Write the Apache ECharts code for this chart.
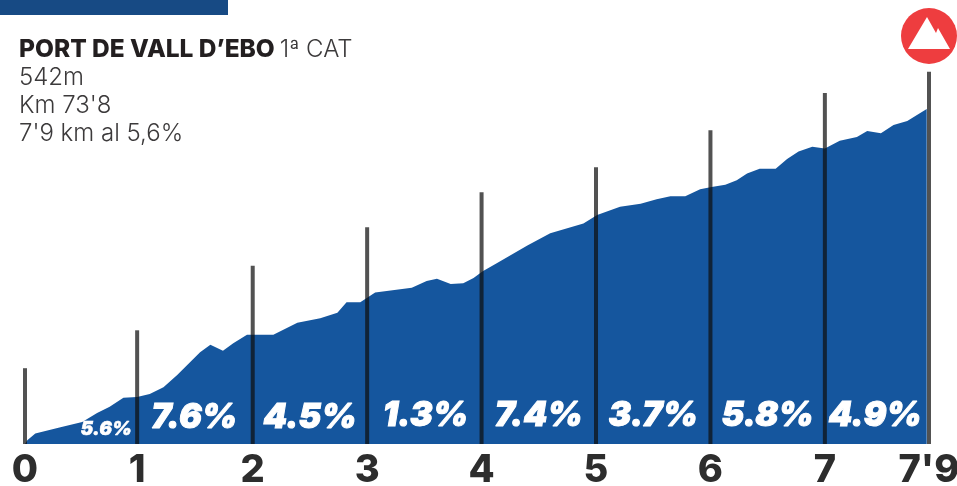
<!DOCTYPE html>
<html>
<head>
<meta charset="utf-8">
<style>
html, body { margin: 0; padding: 0; background: #fff; }
#main { width: 957px; height: 486px; }
</style>
<script src="https://cdn.jsdelivr.net/npm/echarts@6/dist/echarts.min.js"></script>
</head>
<body>
<div id="main"></div>
<script>
// km, elevation (m)
var profile = [
    [0, 100], [0.02, 105], [0.09, 114], [0.31, 122], [0.50, 129], [0.63, 141], [0.74, 149], [0.86, 161],
    [0.98, 162], [1.09, 166], [1.21, 175], [1.33, 191], [1.53, 221], [1.62, 231], [1.73, 223], [1.82, 233],
    [1.94, 244], [2.17, 244], [2.38, 260], [2.58, 266], [2.73, 273], [2.81, 287], [2.93, 287], [3.06, 300],
    [3.38, 306], [3.51, 315], [3.60, 318], [3.72, 311], [3.83, 312], [3.92, 319], [4.00, 328], [4.13, 339],
    [4.39, 362], [4.59, 378], [4.88, 391], [5.00, 402], [5.20, 413], [5.38, 417], [5.52, 423], [5.64, 427],
    [5.77, 427], [5.90, 436], [6.00, 439], [6.12, 442], [6.22, 448], [6.31, 457], [6.42, 463], [6.56, 463],
    [6.66, 476], [6.76, 486], [6.88, 492], [6.99, 490], [7.12, 500], [7.27, 505], [7.36, 513], [7.48, 510],
    [7.59, 521], [7.71, 526], [7.88, 542]
];

// km markers: the poles and their labels
var markerKm = [0, 0.98, 1.99, 2.99, 3.99, 4.99, 5.99, 6.99, 7.9];
var markerTop = [200, 250, 335, 386, 432, 465, 514, 563, 591];
var markerLabels = ['0', '1', '2', '3', '4', '5', '6', '7', "7'9"];

// gradient of each km
var gradientLabels = ['5.6%', '7.6%', '4.5%', '1.3%', '7.4%', '3.7%', '5.8%', '4.9%'];
var gradientKm = [0.71, 1.48, 2.49, 3.50, 4.49, 5.49, 6.49, 7.43];
var gradientElev = [120, 135, 135, 137, 137, 137, 137, 137];

var poles = [];
for (var i = 0; i < markerKm.length; i++) {
    poles.push([markerKm[i], markerTop[i]]);
}
var gradients = [];
for (var j = 0; j < gradientLabels.length; j++) {
    gradients.push({
        value: [gradientKm[j], gradientElev[j]],
        name: gradientLabels[j],
        label: { fontSize: j == 0 ? 19 : 34, textBorderWidth: j == 0 ? 0.5 : 1 }
    });
}

// bars would start from 0, below the axis min, so the poles are drawn by hand
function renderPole(params, api) {
    var top = api.coord([api.value(0), api.value(1)]);
    var bottom = api.coord([api.value(0), 100]);
    return {
        type: 'rect',
        shape: { x: top[0] - 2, y: top[1], width: 4, height: bottom[1] - top[1] },
        style: { fill: 'rgba(15,15,15,0.72)' }
    };
}

var chart = echarts.init(document.getElementById('main'));
chart.setOption({
    animation: false,
    backgroundColor: '#fff',
    grid: { left: 25, right: 28, top: 65, bottom: 42, outerBoundsMode: 'none' },
    title: {
        left: 19,
        top: 36,
        padding: 0,
        text: '{b|PORT DE VALL D’EBO} {l|1ª CAT}\n{l|542m}\n{l|Km 73\'8}\n{l|7\'9 km al 5,6%}',
        textStyle: {
            rich: {
                b: { fontFamily: 'Inter', fontWeight: 800, fontSize: 24.5, color: '#231f20', lineHeight: 28 },
                l: { fontFamily: 'Inter', fontWeight: 300, fontSize: 24, color: '#3c3a3b', lineHeight: 28 }
            }
        }
    },
    xAxis: {
        type: 'value',
        min: 0,
        max: 7.9,
        splitLine: { show: false },
        axisLine: { show: false },
        axisTick: { show: false },
        axisLabel: {
            customValues: markerKm,
            margin: 8,
            fontFamily: 'Inter',
            fontWeight: 800,
            fontSize: 38,
            color: '#2d2d2d',
            hideOverlap: false,
            showMinLabel: true,
            showMaxLabel: true,
            formatter: function (value) {
                return markerLabels[markerKm.indexOf(value)];
            }
        }
    },
    yAxis: {
        type: 'value',
        min: 100,
        max: 600,
        show: false
    },
    series: [
        {
            type: 'line',
            data: profile,
            symbol: 'none',
            lineStyle: { width: 0 },
            areaStyle: { color: '#15569e', opacity: 1, origin: 'start' },
            z: 1
        },
        {
            type: 'custom',
            data: poles,
            clip: false,
            renderItem: renderPole,
            z: 2
        },
        {
            type: 'scatter',
            data: gradients,
            symbolSize: 0,
            itemStyle: { opacity: 1 },
            z: 3,
            label: {
                show: true,
                position: 'inside',
                formatter: '{b}',
                color: '#fff',
                textBorderColor: '#fff',
                fontFamily: 'Inter',
                fontStyle: 'italic',
                fontWeight: 900
            }
        }
    ],
    graphic: [
        { type: 'rect', shape: { x: 0, y: 0, width: 228, height: 15 }, style: { fill: '#174a84' } },
        { type: 'circle', shape: { cx: 929, cy: 36, r: 28 }, style: { fill: '#ee3d3f' } },
        {
            type: 'polygon',
            shape: { points: [[908, 49], [927, 17], [936, 33], [938, 28], [950, 49]] },
            style: { fill: '#fff' }
        }
    ]
});
</script>
</body>
</html>
